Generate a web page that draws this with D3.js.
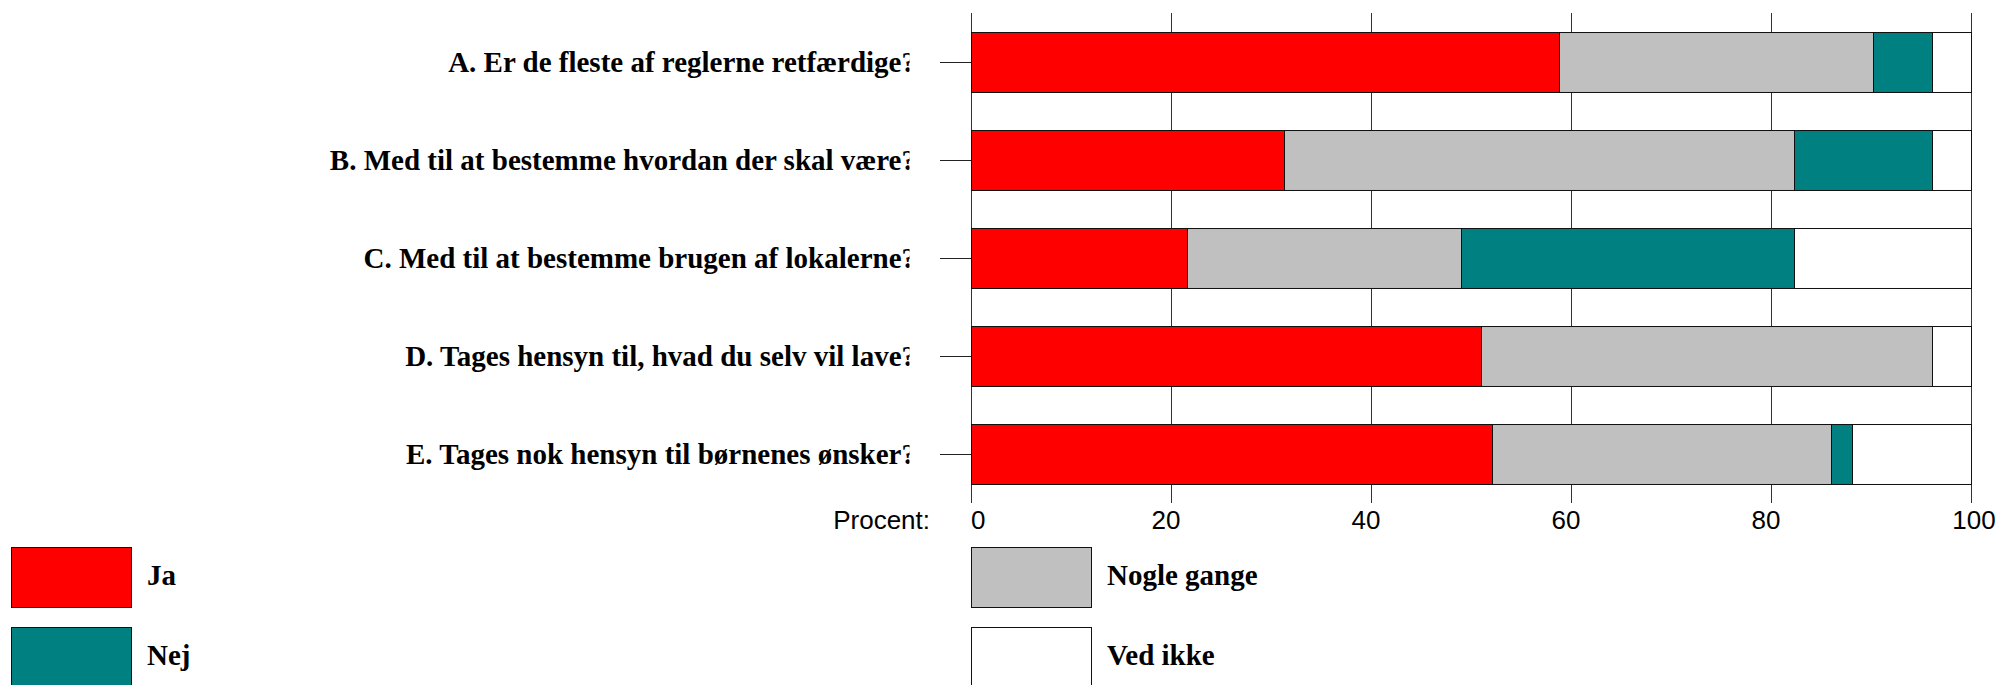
<!DOCTYPE html>
<html>
<head>
<meta charset="utf-8">
<script src="https://cdn.jsdelivr.net/npm/d3@7"></script>
<style>
  html, body { margin: 0; padding: 0; background: #fff; }
  svg { display: block; }
</style>
</head>
<body>
<script>
// ---------- data ----------
const categories = [
  "A. Er de fleste af reglerne retfærdige?",
  "B. Med til at bestemme hvordan der skal være?",
  "C. Med til at bestemme brugen af lokalerne?",
  "D. Tages hensyn til, hvad du selv vil lave?",
  "E. Tages nok hensyn til børnenes ønsker?"
];
const seriesNames = ["Ja", "Nogle gange", "Nej", "Ved ikke"];
const jaValues      = [58.8, 31.3, 21.6, 51.0, 52.1];
const nogleValues   = [31.4, 51.0, 27.4, 45.1, 33.9];
const nejValues     = [5.9, 13.8, 33.3, 0.0, 2.1];
const vedIkkeValues = [3.9, 3.9, 17.7, 3.9, 11.9];
const tickValues = [0, 20, 40, 60, 80, 100];
const axisTitle = "Procent:";
const colors = ["#ff0000", "#c0c0c0", "#008080", "#ffffff"];

// ---------- layout ----------
const W = 2002, H = 685;
const svg = d3.select("body").append("svg").attr("width", W).attr("height", H);
const defs = svg.append("defs");

const x = d3.scaleLinear().domain([0, 100]).range([971, 1971]);
const y = d3.scaleBand().domain(categories).range([13, 503])
  .paddingInner(0.388).paddingOuter(0.194);

const table = categories.map((c, i) => ({
  cat: c, "Ja": jaValues[i], "Nogle gange": nogleValues[i],
  "Nej": nejValues[i], "Ved ikke": vedIkkeValues[i]
}));
const stacked = d3.stack().keys(seriesNames)(table);
const color = d3.scaleOrdinal().domain(seriesNames).range(colors);

// grid lines
svg.append("g").selectAll("line").data(tickValues).join("line")
  .attr("x1", d => x(d) + 0.5).attr("x2", d => x(d) + 0.5)
  .attr("y1", 13).attr("y2", 503)
  .attr("stroke", "#333").attr("stroke-width", 1);

// bars
svg.append("g").selectAll("g").data(stacked).join("g")
  .attr("fill", d => color(d.key))
  .selectAll("rect").data(d => d).join("rect")
  .attr("x", d => x(d[0]) + 0.5)
  .attr("y", d => y(d.data.cat) + 0.5)
  .attr("width", d => x(d[1]) - x(d[0]))
  .attr("height", y.bandwidth())
  .attr("stroke", "#111").attr("stroke-width", 1)
  .attr("display", d => (d[1] - d[0]) > 0 ? null : "none");

// category ticks
svg.append("g").selectAll("line").data(categories).join("line")
  .attr("x1", 940).attr("x2", 971)
  .attr("y1", d => y(d) + y.bandwidth() / 2 + 0.5)
  .attr("y2", d => y(d) + y.bandwidth() / 2 + 0.5)
  .attr("stroke", "#222").attr("stroke-width", 1);

// category labels (clipped)
defs.append("clipPath").attr("id", "labclip")
  .append("rect").attr("x", 0).attr("y", 0).attr("width", 909.5).attr("height", 510);
svg.append("g").attr("clip-path", "url(#labclip)")
  .selectAll("text").data(categories).join("text")
  .attr("x", 916)
  .attr("y", d => y(d) + y.bandwidth() / 2 + 10)
  .attr("text-anchor", "end")
  .attr("font-family", "'Liberation Serif', 'Times New Roman', serif")
  .attr("font-weight", "bold")
  .attr("font-size", 29)
  .attr("fill", "#000")
  .text(d => d);

// x tick labels
svg.append("g").selectAll("text").data(tickValues).join("text")
  .attr("x", d => d === 0 ? x(d) : (d === 100 ? x(d) + 3 : x(d) - 5))
  .attr("y", 529)
  .attr("text-anchor", d => d === 0 ? "start" : "middle")
  .attr("font-family", "'Liberation Sans', Arial, sans-serif")
  .attr("font-size", 26)
  .attr("fill", "#000")
  .text(d => d);

svg.append("text")
  .attr("x", 930).attr("y", 529)
  .attr("text-anchor", "end")
  .attr("font-family", "'Liberation Sans', Arial, sans-serif")
  .attr("font-size", 26)
  .text(axisTitle);

// legend
const legendPos = [
  { key: "Ja", x: 11, y: 547 },
  { key: "Nogle gange", x: 971, y: 547 },
  { key: "Nej", x: 11, y: 627 },
  { key: "Ved ikke", x: 971, y: 627 }
];
const lg = svg.append("g").selectAll("g").data(legendPos).join("g");
lg.append("rect")
  .attr("x", d => d.x + 0.5).attr("y", d => d.y + 0.5)
  .attr("width", 120).attr("height", 60)
  .attr("fill", d => color(d.key))
  .attr("stroke", "#111").attr("stroke-width", 1);
lg.append("text")
  .attr("x", d => d.x + 136).attr("y", d => d.y + 38)
  .attr("font-family", "'Liberation Serif', 'Times New Roman', serif")
  .attr("font-weight", "bold")
  .attr("font-size", 29)
  .text(d => d.key);
</script>
</body>
</html>
